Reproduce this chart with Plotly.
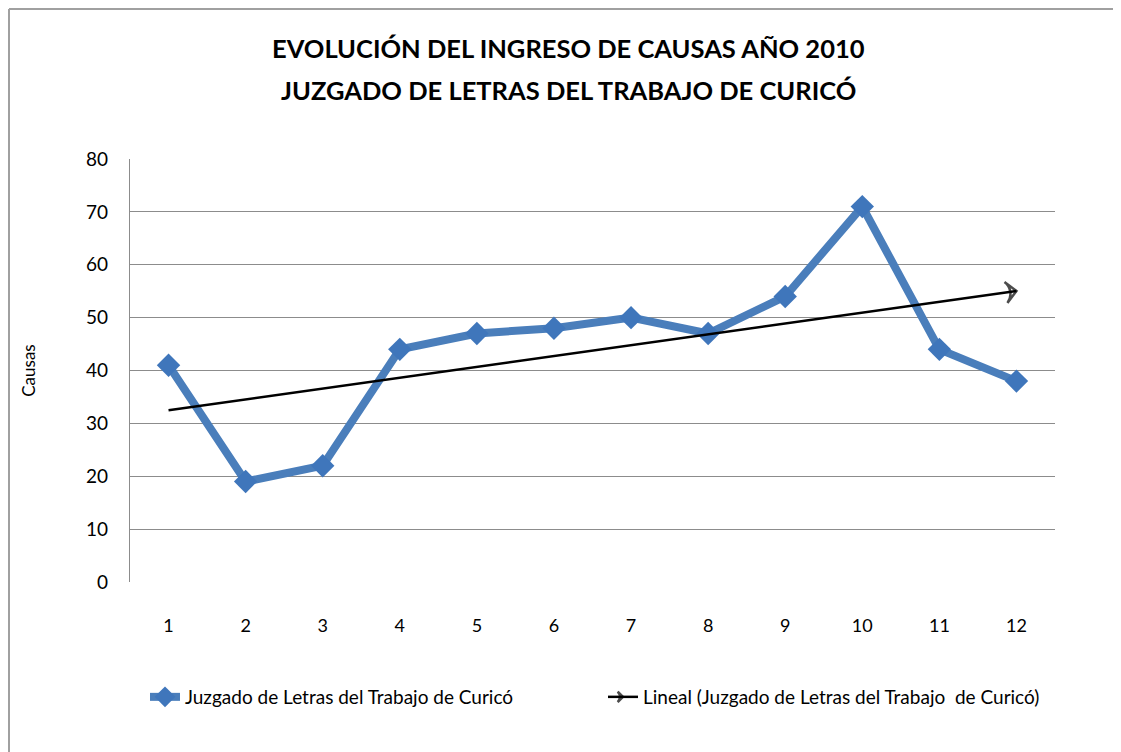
import numpy as np
import plotly.graph_objects as go

months = [1, 2, 3, 4, 5, 6, 7, 8, 9, 10, 11, 12]
causas = [41, 19, 22, 44, 47, 48, 50, 47, 54, 71, 44, 38]
series_name = "Juzgado de Letras del Trabajo de Curicó"
trend_name = "Lineal (Juzgado de Letras del Trabajo  de Curicó)"
title_lines = ["EVOLUCIÓN DEL INGRESO DE CAUSAS AÑO 2010", "JUZGADO DE LETRAS DEL TRABAJO DE CURICÓ"]
y_ticks = [0, 10, 20, 30, 40, 50, 60, 70, 80]

slope, intercept = np.polyfit(months, causas, 1)
trend_x = [months[0], months[-1]]
trend_y = [slope * x + intercept for x in trend_x]

FONT = "Lato, Open Sans, sans-serif"
BLUE = "#4a7ebb"
GRID = "#8c8c8c"

# page offset (browser body margin)
OFF = 8
W, H = 1121 - OFF, 752 - OFF
L, R, T, B = 130 - OFF, 66, 159 - OFF, 170
pw, ph = W - L - R, H - T - B


def px_x(page_x):
    return (page_x - OFF - L) / pw


def px_y(page_y):
    return 1 - (page_y - OFF - T) / ph


fig = go.Figure()
fig.add_trace(go.Scatter(
    x=months, y=causas, name=series_name, mode="lines+markers",
    line=dict(color=BLUE, width=8),
    marker=dict(symbol="diamond", size=18, color="#3f76bb"),
))
fig.add_trace(go.Scatter(
    x=trend_x, y=trend_y, name=trend_name, mode="lines+markers",
    line=dict(color="black", width=2.5),
    marker=dict(symbol="arrow-wide-open", size=[0, 15], color="black", angleref="previous",
                line=dict(width=2.5, color="black")),
))

fig.update_layout(
    width=W, height=H,
    margin=dict(l=L, r=R, t=T, b=B),
    paper_bgcolor="white", plot_bgcolor="white",
    font=dict(family=FONT, size=16, color="black"),
    xaxis=dict(range=[0.5, 12.5], tickmode="array", tickvals=months,
               ticktext=[str(m) for m in months], showgrid=False, zeroline=False,
               showline=False, ticks="", ticklabelstandoff=31, tickfont=dict(size=18),
               fixedrange=True),
    yaxis=dict(range=[0, 80], tickmode="array", tickvals=y_ticks,
               showgrid=True, gridcolor=GRID, gridwidth=1.3, zeroline=False,
               showline=True, linecolor=GRID, linewidth=1.3, ticks="",
               ticklabelstandoff=17, tickfont=dict(size=19),
               title=dict(text="Causas", font=dict(size=17), standoff=46)),
    legend=dict(orientation="h", x=px_x(145), xanchor="left",
                y=px_y(697), yanchor="middle",
                font=dict(size=19), entrywidth=413, entrywidthmode="pixels",
                bgcolor="rgba(0,0,0,0)"),
    showlegend=True,
)

title_y = [48, 90]
for line, ty in zip(title_lines, title_y):
    fig.add_annotation(text="<b>" + line + "</b>", xref="paper", yref="paper",
                       x=px_x(568), y=px_y(ty), xanchor="center", yanchor="middle",
                       showarrow=False, font=dict(family=FONT, size=25.5, color="black"))

# outer chart frame (top and left edges visible)
fig.add_shape(type="line", xref="paper", yref="paper",
              x0=px_x(OFF + 1), x1=px_x(1125), y0=px_y(OFF + 1), y1=px_y(OFF + 1),
              line=dict(color="#a0a0a0", width=2))
fig.add_shape(type="line", xref="paper", yref="paper",
              x0=px_x(OFF + 1), x1=px_x(OFF + 1), y0=px_y(OFF + 1), y1=px_y(760),
              line=dict(color="#a0a0a0", width=2))

fig.write_html("out.html")
